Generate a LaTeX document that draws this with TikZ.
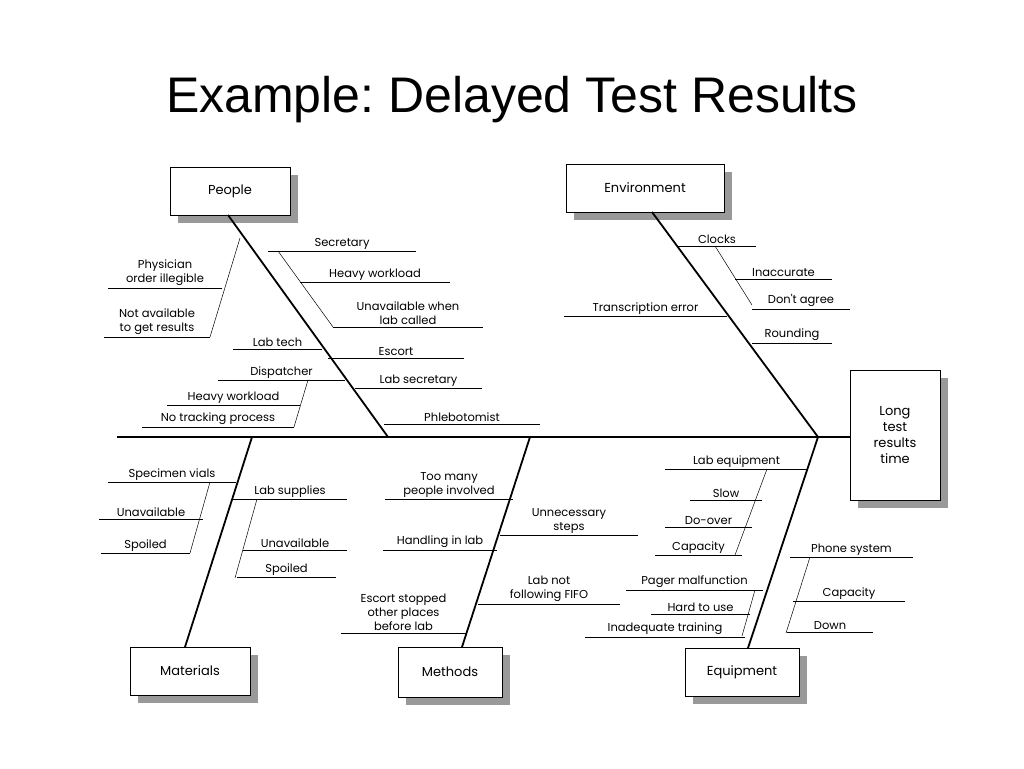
\documentclass[tikz,border=0pt]{standalone}
\usepackage{fontspec}
\setmainfont{Liberation Sans}
\newfontfamily\labelfont{Poppins}
\usetikzlibrary{positioning}
\frenchspacing
\tikzset{
    % Boxes at the ends of the bones
    catbox/.style={draw, thick, fill=white, align=center, font=\labelfont\fontsize{13}{16}\selectfont},
    bone/.style={line width=1.8pt},
    twig/.style={line width=0.9pt},
    subtwig/.style={line width=0.5pt},
    causetext/.style={anchor=south, inner sep=1.5pt, align=center,
        font=\labelfont\fontsize{11.5}{14}\selectfont},
}
% a cause: line from x1 to x2 at height y, text above it
\newcommand{\cause}[4]{\draw [twig] (#1,#3) -- node [causetext] {#4} (#2,#3);}
\newcommand{\shadowbox}[5]{%
    \fill [black!40] (#1+8,#2+8) rectangle (#3+8,#4+8);
    \draw [thick, fill=white] (#1,#2) rectangle (#3,#4);
    \node at ({(#1+#3)/2},{(#2+#4)/2}) [catbox, draw=none, fill=none] {#5};}
\begin{document}
\begin{tikzpicture}[x=1pt, y=-1pt]
\useasboundingbox (0,0) rectangle (1024,768);

\node (title) at (512,100) {\fontsize{50}{56}\selectfont Example: Delayed Test Results};

% boxes
\shadowbox{170}{167}{290}{215}{People}
\shadowbox{566}{164}{724}{212}{Environment}
\shadowbox{850}{370}{940}{500}{Long\\test\\results\\time}
\shadowbox{130}{647}{250}{695}{Materials}
\shadowbox{398}{647}{502}{697}{Methods}
\shadowbox{685}{648}{799}{696}{Equipment}

% spine and bones
\coordinate (tail) at (117,437);
\coordinate (head) at (818,437);
\draw [bone] (tail) -- (head) -- (850,437);
\draw [bone] (228,215) -- (388,437);
\draw [bone] (652,212) -- (head);
\draw [bone] (185,647) -- (252,437);
\draw [bone] (462,647) -- (530,437);
\draw [bone] (748,648) -- (head);

% People
\cause{268}{416}{251}{Secretary}
\draw [subtwig] (278,251) -- (333,327);
\cause{300}{450}{282}{Heavy workload}
\cause{333}{483}{327}{Unavailable when\\lab called}
\draw [subtwig] (240,238) -- (210,337);
\cause{108}{222}{288}{Physician\\order illegible}
\cause{104}{210}{337}{Not available\\to get results}
\cause{233}{322}{349}{Lab tech}
\cause{328}{464}{358}{Escort}
\cause{218}{345}{380}{Dispatcher}
\cause{355}{482}{388}{Lab secretary}
\draw [subtwig] (308,380) -- (294,427);
\cause{167}{300}{405}{Heavy workload}
\cause{142}{294}{427}{No tracking process}
\cause{384}{540}{424}{Phlebotomist}

% Environment
\cause{678}{756}{246}{Clocks}
\draw [subtwig] (715,246) -- (752,305);
\cause{735}{832}{279}{Inaccurate}
\cause{752}{850}{309}{Don't agree}
\cause{564}{727}{316}{Transcription error}
\cause{752}{832}{343}{Rounding}

% Materials
\cause{108}{236}{482}{Specimen vials}
\draw [subtwig] (210,482) -- (190,553);
\cause{99}{203}{519}{Unavailable}
\cause{101}{190}{553}{Spoiled}
\cause{233}{347}{499}{Lab supplies}
\draw [subtwig] (257,499) -- (235,578);
\cause{243}{347}{550}{Unavailable}
\cause{237}{336}{577}{Spoiled}

% Methods
\cause{385}{513}{499}{Too many\\people involved}
\cause{500}{638}{535}{Unnecessary\\steps}
\cause{383}{497}{550}{Handling in lab}
\cause{478}{620}{604}{Lab not\\following FIFO}
\cause{341}{466}{633}{Escort stopped\\other places\\before lab}

% Equipment
\cause{665}{808}{469}{Lab equipment}
\draw [subtwig] (767,469) -- (735,555);
\cause{690}{762}{500}{Slow}
\cause{665}{752}{527}{Do-over}
\cause{655}{742}{555}{Capacity}
\cause{790}{913}{557}{Phone system}
\draw [subtwig] (810,557) -- (786,633);
\cause{793}{905}{601}{Capacity}
\cause{787}{873}{632}{Down}
\cause{626}{763}{590}{Pager malfunction}
\draw [subtwig] (755,590) -- (742,636);
\cause{651}{750}{614}{Hard to use}
\cause{585}{745}{637}{Inadequate training}
\end{tikzpicture}
\end{document}
